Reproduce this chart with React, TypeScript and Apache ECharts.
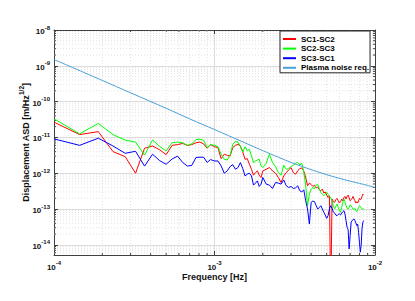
import React, { useEffect, useRef } from "react";
import * as echarts from "echarts";

// Frequencies [Hz] shared by the three spacecraft-pair series
const frequencies = [
  1e-4, 1.444e-4, 1.889e-4, 2.333e-4, 2.778e-4, 3.222e-4, 3.667e-4, 4.111e-4, 4.556e-4, 5e-4,
  5.444e-4, 5.889e-4, 6.333e-4, 6.778e-4, 7.222e-4, 7.667e-4, 8.111e-4, 8.556e-4, 9e-4, 9.444e-4,
  1.0e-3, 1.05e-3, 1.1e-3, 1.15e-3, 1.2e-3, 1.25e-3, 1.3e-3, 1.35e-3, 1.4e-3, 1.45e-3,
  1.5e-3, 1.55e-3, 1.6e-3, 1.65e-3, 1.7e-3, 1.75e-3, 1.8e-3, 1.85e-3, 1.9e-3, 1.95e-3, 2.0e-3,
  2.1e-3, 2.2e-3, 2.3e-3, 2.4e-3, 2.5e-3, 2.6e-3, 2.7e-3, 2.8e-3, 2.9e-3, 3.0e-3,
  3.1e-3, 3.2e-3, 3.3e-3, 3.4e-3, 3.5e-3, 3.6e-3, 3.7e-3, 3.8e-3, 3.9e-3, 4.0e-3,
  4.1e-3, 4.2e-3, 4.3e-3, 4.4e-3, 4.5e-3, 4.6e-3, 4.7e-3, 4.8e-3, 4.9e-3, 5.0e-3,
  5.1e-3, 5.2e-3, 5.3e-3, 5.4e-3, 5.5e-3, 5.6e-3, 5.7e-3, 5.8e-3, 5.9e-3, 6.0e-3,
  6.1e-3, 6.2e-3, 6.3e-3, 6.4e-3, 6.5e-3, 6.6e-3, 6.7e-3, 6.8e-3, 6.9e-3, 7.0e-3,
  7.1e-3, 7.2e-3, 7.3e-3, 7.4e-3, 7.5e-3, 7.6e-3, 7.7e-3, 7.8e-3, 7.9e-3, 8.0e-3,
  8.1e-3, 8.2e-3, 8.3e-3, 8.4e-3, 8.5e-3,
];

const sc1sc2 = [
  2.66e-11, 1.2e-11, 1.45e-11, 4.0e-12, 2.9e-12, 1.0e-12, 5.0e-12, 5.75e-12, 4.5e-12, 3.3e-12,
  6.0e-12, 6.3e-12, 6.8e-12, 6.0e-12, 6.3e-12, 7.1e-12, 7.4e-12, 6.6e-12, 5.0e-12, 6.3e-12,
  5.5e-12, 5.2e-12, 2.56e-12, 3.4e-12, 3.16e-12, 3.0e-12, 5.2e-12, 6.0e-12, 6.4e-12, 5.7e-12,
  3.9e-12, 2.45e-12, 2.56e-12, 1.78e-12, 1.29e-12, 8.8e-13, 1.04e-12, 1.16e-12, 8.8e-13, 7.6e-13, 1.16e-12,
  1.29e-12, 1.44e-12, 1.16e-12, 1.0e-12, 7.6e-13, 5.5e-13, 8.4e-13, 1.04e-12, 1.24e-12, 1.44e-12,
  1.04e-12, 9.4e-13, 1.16e-12, 1.35e-12, 1.4e-12, 1.16e-12, 7.6e-13, 4.45e-13, 5.3e-13, 4.85e-13,
  4.27e-13, 4.65e-13, 3.9e-13, 4.1e-13, 3.45e-13, 3.24e-13, 3.6e-13, 2.8e-13, 3.0e-13, 2.45e-13,
  2.1e-13, 2.34e-13, 3e-16, 1.9e-13, 1.6e-13, 1.53e-13, 1.82e-13, 1.98e-13, 1.7e-13, 1.47e-13,
  1.6e-13, 1.9e-13, 1.7e-13, 2.07e-13, 2.25e-13, 1.9e-13, 2.25e-13, 2.45e-13, 2.07e-13, 1.7e-13,
  1.82e-13, 1.98e-13, 2.25e-13, 1.9e-13, 1.7e-13, 1.47e-13, 1.6e-13, 1.47e-13, 1.7e-13, 1.98e-13,
  1.82e-13, 1.9e-13, 2.25e-13, 2.6e-13, 2.45e-13,
];

const sc2sc3 = [
  3.3e-11, 1.26e-11, 2.45e-11, 1.2e-11, 8.4e-12, 7.4e-12, 3.2e-12, 8.5e-12, 5.6e-12, 4.2e-12,
  7.1e-12, 7.4e-12, 7.1e-12, 6.0e-12, 6.6e-12, 8.7e-12, 8.9e-12, 8.3e-12, 5.2e-12, 6.3e-12,
  6.0e-12, 5.5e-12, 3.4e-12, 2.45e-12, 2.34e-12, 3.16e-12, 6.4e-12, 7.7e-12, 7.4e-12, 5.7e-12,
  3.9e-12, 5.5e-12, 4.2e-12, 4.65e-12, 3.0e-12, 1.98e-12, 2.2e-12, 2.34e-12, 2.45e-12, 1.6e-12, 1.44e-12,
  1.9e-12, 3.4e-12, 1.98e-12, 1.53e-12, 1.04e-12, 8.8e-13, 1.67e-12, 1.29e-12, 1.35e-12, 1.53e-12,
  1.67e-12, 1.9e-12, 2.0e-12, 1.7e-12, 1.9e-12, 1.09e-12, 4.45e-13, 1.24e-13, 2.6e-13, 3.6e-13,
  3.9e-13, 3.75e-13, 4.65e-13, 4.85e-13, 3.6e-13, 2.9e-13, 2.6e-13, 2.34e-13, 2.6e-13, 2.9e-13,
  2.6e-13, 2.25e-13, 2.1e-13, 1.7e-13, 1.24e-13, 1.0e-13, 1.19e-13, 1.38e-13, 1.11e-13, 9.0e-14,
  8.1e-14, 1.11e-13, 1.53e-13, 1.9e-13, 1.6e-13, 1.24e-13, 1.04e-13, 1.0e-13, 1.11e-13, 1.29e-13,
  1.24e-13, 1.11e-13, 1.0e-13, 9.6e-14, 1.04e-13, 9.0e-14, 8.4e-14, 9.6e-14, 1.11e-13, 1.24e-13,
  1.19e-13, 1.08e-13, 1.0e-13, 9.6e-14, 1.04e-13,
];

const sc3sc1 = [
  9.1e-12, 6.0e-12, 9.5e-12, 5.75e-12, 3.6e-12, 4.1e-12, 1.58e-12, 3.4e-12, 2.24e-12, 1.78e-12,
  2.5e-12, 3.0e-12, 2.0e-12, 1.58e-12, 1.66e-12, 2.75e-12, 2.8e-12, 2.8e-12, 2.0e-12, 2.4e-12,
  2.2e-12, 2.2e-12, 1.6e-12, 1.0e-12, 1.16e-12, 1.53e-12, 1.74e-12, 1.29e-12, 1.44e-12, 1.98e-12,
  1.35e-12, 8.4e-13, 9.4e-13, 1.0e-12, 8.4e-13, 4.65e-13, 5.3e-13, 6.1e-13, 4.27e-13, 4.95e-13, 7.6e-13,
  4.95e-13, 4.65e-13, 3.75e-13, 5.5e-13, 5.3e-13, 4.95e-13, 6.5e-13, 4.45e-13, 4.0e-13, 4.27e-13,
  3.75e-13, 3.9e-13, 4.45e-13, 3.24e-13, 3.0e-13, 3.45e-13, 1.7e-13, 1.0e-13, 3.8e-14, 1.53e-13,
  1.67e-13, 1.6e-13, 1.24e-13, 1.0e-13, 1.11e-13, 1.24e-13, 1.0e-13, 8.1e-14, 6.8e-14, 5.5e-14,
  6.5e-14, 1.0e-13, 1.24e-13, 1.04e-13, 8.4e-14, 7.7e-14, 6.8e-14, 6.5e-14, 7.1e-14, 7.3e-14,
  6.8e-14, 7.7e-14, 8.4e-14, 9.0e-14, 7.3e-14, 4.75e-14, 3.1e-14, 2.67e-14, 7.7e-15, 1.82e-14,
  4.27e-14, 4.75e-14, 5.05e-14, 5.3e-14, 4.75e-14, 4.1e-14, 3.45e-14, 3.8e-14, 2.25e-14, 1.19e-14,
  6.25e-15, 9.6e-15, 2.8e-14, 4.27e-14, 4.75e-14,
];

const plasmaFreq = [
  1e-4, 2e-4, 3e-4, 5e-4, 7e-4, 1e-3, 1.5e-3, 2e-3, 2.5e-3, 3e-3, 3.5e-3, 4e-3,
  5e-3, 6e-3, 7e-3, 8e-3, 9e-3, 1e-2,
];
const plasmaReq = [
  1.5e-9, 3.9e-10, 1.76e-10, 6.5e-11, 3.3e-11, 1.66e-11, 7.5e-12, 4.27e-12, 2.8e-12, 2.0e-12,
  1.55e-12, 1.26e-12, 9.1e-13, 7.2e-13, 6.0e-13, 5.2e-13, 4.57e-13, 4.0e-13,
];

const seriesNames = ["SC1-SC2", "SC2-SC3", "SC3-SC1", "Plasma noise req."];
const seriesColors = ["#ff0000", "#00ff00", "#0000ff", "#4aa0d8"];

const minorTicksX = [
  2e-4, 3e-4, 4e-4, 5e-4, 6e-4, 7e-4, 8e-4, 9e-4,
  2e-3, 3e-3, 4e-3, 5e-3, 6e-3, 7e-3, 8e-3, 9e-3,
];
const minorTicksY = [
  6e-15, 7e-15, 8e-15, 9e-15,
  2e-14, 3e-14, 4e-14, 5e-14, 6e-14, 7e-14, 8e-14, 9e-14,
  2e-13, 3e-13, 4e-13, 5e-13, 6e-13, 7e-13, 8e-13, 9e-13,
  2e-12, 3e-12, 4e-12, 5e-12, 6e-12, 7e-12, 8e-12, 9e-12,
  2e-11, 3e-11, 4e-11, 5e-11, 6e-11, 7e-11, 8e-11, 9e-11,
  2e-10, 3e-10, 4e-10, 5e-10, 6e-10, 7e-10, 8e-10, 9e-10,
  2e-9, 3e-9, 4e-9, 5e-9, 6e-9, 7e-9, 8e-9, 9e-9,
];

const X_MIN = 1e-4;
const X_MAX = 1e-2;
const Y_MIN = 5.2e-15;
const Y_MAX = 1e-8;

const FONT = "Liberation Sans";
const AXIS_COLOR = "#404040";
const MAJOR_GRID = "#dcdcdc";
const MINOR_GRID = "#e2e2e2";

const powLabel = (v: number) => {
  const e = Math.log10(v);
  const r = Math.round(e);
  if (Math.abs(e - r) > 1e-6) return "";
  return `{b|10}{s|${r}}`;
};

const labelRich = {
  b: { fontSize: 8, fontWeight: "bold", color: "#111", fontFamily: FONT, lineHeight: 11, verticalAlign: "bottom" },
  s: { fontSize: 6, fontWeight: "bold", color: "#111", fontFamily: FONT, lineHeight: 11, verticalAlign: "top" },
};

export default function App() {
  const ref = useRef<HTMLDivElement>(null);

  useEffect(() => {
    if (!ref.current) return;
    const chart = echarts.init(ref.current, undefined, { renderer: "svg" });

    const pairData = (vals: number[]) => frequencies.map((f, i) => [f, vals[i]]);

    const commonX = {
      type: "log" as const,
      min: X_MIN,
      max: X_MAX,
      logBase: 10,
      axisLine: { show: true, onZero: false, lineStyle: { color: AXIS_COLOR, width: 1 } },
      axisTick: { show: true, inside: true, length: 4, lineStyle: { color: AXIS_COLOR } },
    };
    const commonY = {
      type: "log" as const,
      min: Y_MIN,
      max: Y_MAX,
      logBase: 10,
      axisLine: { show: true, onZero: false, lineStyle: { color: AXIS_COLOR, width: 1 } },
      axisTick: { show: true, inside: true, length: 4, lineStyle: { color: AXIS_COLOR } },
    };

    const option: any = {
      animation: false,
      backgroundColor: "#ffffff",
      grid: { left: 54, right: 40, top: 30, bottom: 46, show: false },
      legend: {
        orient: "vertical",
        left: 280,
        top: 31,
        padding: [4, 1, 1, 2],
        itemGap: 1.6,
        itemWidth: 13,
        itemHeight: 9,
        backgroundColor: "#ffffff",
        borderColor: "#262626",
        borderWidth: 1,
        borderRadius: 0,
        selectedMode: false,
        data: seriesNames,
        itemStyle: { opacity: 0 },
        textStyle: { fontSize: 8, fontWeight: "bold", color: "#000", fontFamily: FONT },
      },
      xAxis: [
        {
          ...commonX,
          position: "bottom",
          name: "Frequency [Hz]",
          nameLocation: "middle",
          nameGap: 17,
          nameMoveOverlap: false,
          nameTextStyle: { fontSize: 9, fontWeight: "bold", color: "#111", fontFamily: FONT },
          axisLabel: { show: true, margin: 5, formatter: powLabel, rich: labelRich },
          splitLine: { show: true, lineStyle: { color: MAJOR_GRID, width: 1 } },
        },
        {
          ...commonX,
          position: "top",
          axisLabel: { show: false },
          splitLine: { show: false },
        },
      ],
      yAxis: [
        {
          ...commonY,
          position: "left",
          name: "{a|Displacement ASD [m/Hz}{s|1/2}{a|]}",
          nameLocation: "middle",
          nameGap: 24,
          nameMoveOverlap: false,
          nameTextStyle: {
            rich: {
              a: { fontSize: 9, fontWeight: "bold", color: "#111", fontFamily: FONT, lineHeight: 12, verticalAlign: "bottom" },
              s: { fontSize: 6.5, fontWeight: "bold", color: "#111", fontFamily: FONT, lineHeight: 12, verticalAlign: "top" },
            },
          },
          axisLabel: { show: true, margin: 4, formatter: powLabel, rich: labelRich },
          splitLine: { show: true, lineStyle: { color: MAJOR_GRID, width: 1 } },
        },
        {
          ...commonY,
          position: "right",
          axisLabel: { show: false },
          splitLine: { show: false },
        },
      ],
      series: [
        {
          type: "custom",
          name: "minorX",
          xAxisIndex: 0,
          yAxisIndex: 0,
          z: 1,
          silent: true,
          data: minorTicksX.map((v) => [v, 1e-10]),
          renderItem: (params: any, api: any) => {
            const cs = params.coordSys;
            const x = api.coord([api.value(0), 1e-10])[0];
            const top = cs.y;
            const bottom = cs.y + cs.height;
            return {
              type: "group",
              children: [
                { type: "line", shape: { x1: x, y1: top, x2: x, y2: bottom }, style: { stroke: MINOR_GRID, lineWidth: 1, lineDash: [1, 2] } },
                { type: "line", shape: { x1: x, y1: bottom, x2: x, y2: bottom - 2 }, style: { stroke: AXIS_COLOR, lineWidth: 1 } },
                { type: "line", shape: { x1: x, y1: top, x2: x, y2: top + 2 }, style: { stroke: AXIS_COLOR, lineWidth: 1 } },
              ],
            };
          },
        },
        {
          type: "custom",
          name: "minorY",
          xAxisIndex: 0,
          yAxisIndex: 0,
          z: 1,
          silent: true,
          data: minorTicksY.map((v) => [1e-3, v]),
          renderItem: (params: any, api: any) => {
            const cs = params.coordSys;
            const y = api.coord([1e-3, api.value(1)])[1];
            const left = cs.x;
            const right = cs.x + cs.width;
            return {
              type: "group",
              children: [
                { type: "line", shape: { x1: left, y1: y, x2: right, y2: y }, style: { stroke: MINOR_GRID, lineWidth: 1, lineDash: [1, 2] } },
                { type: "line", shape: { x1: left, y1: y, x2: left + 2, y2: y }, style: { stroke: AXIS_COLOR, lineWidth: 1 } },
                { type: "line", shape: { x1: right, y1: y, x2: right - 2, y2: y }, style: { stroke: AXIS_COLOR, lineWidth: 1 } },
              ],
            };
          },
        },
        {
          type: "line",
          name: seriesNames[0],
          data: pairData(sc1sc2),
          symbol: "none",
          z: 3,
          lineStyle: { color: seriesColors[0], width: 1 },
          itemStyle: { color: seriesColors[0] },
        },
        {
          type: "line",
          name: seriesNames[1],
          data: pairData(sc2sc3),
          symbol: "none",
          z: 3,
          lineStyle: { color: seriesColors[1], width: 1 },
          itemStyle: { color: seriesColors[1] },
        },
        {
          type: "line",
          name: seriesNames[2],
          data: pairData(sc3sc1),
          symbol: "none",
          z: 3,
          lineStyle: { color: seriesColors[2], width: 1 },
          itemStyle: { color: seriesColors[2] },
        },
        {
          type: "line",
          name: seriesNames[3],
          data: plasmaFreq.map((f, i) => [f, plasmaReq[i]]),
          symbol: "none",
          smooth: 0.3,
          z: 3,
          lineStyle: { color: seriesColors[3], width: 1 },
          itemStyle: { color: seriesColors[3] },
        },
      ],
    };

    chart.setOption(option);
    return () => chart.dispose();
  }, []);

  return (
    <div
      ref={ref}
      style={{ position: "fixed", left: 0, top: 0, width: 415, height: 301, background: "#fff" }}
    />
  );
}
